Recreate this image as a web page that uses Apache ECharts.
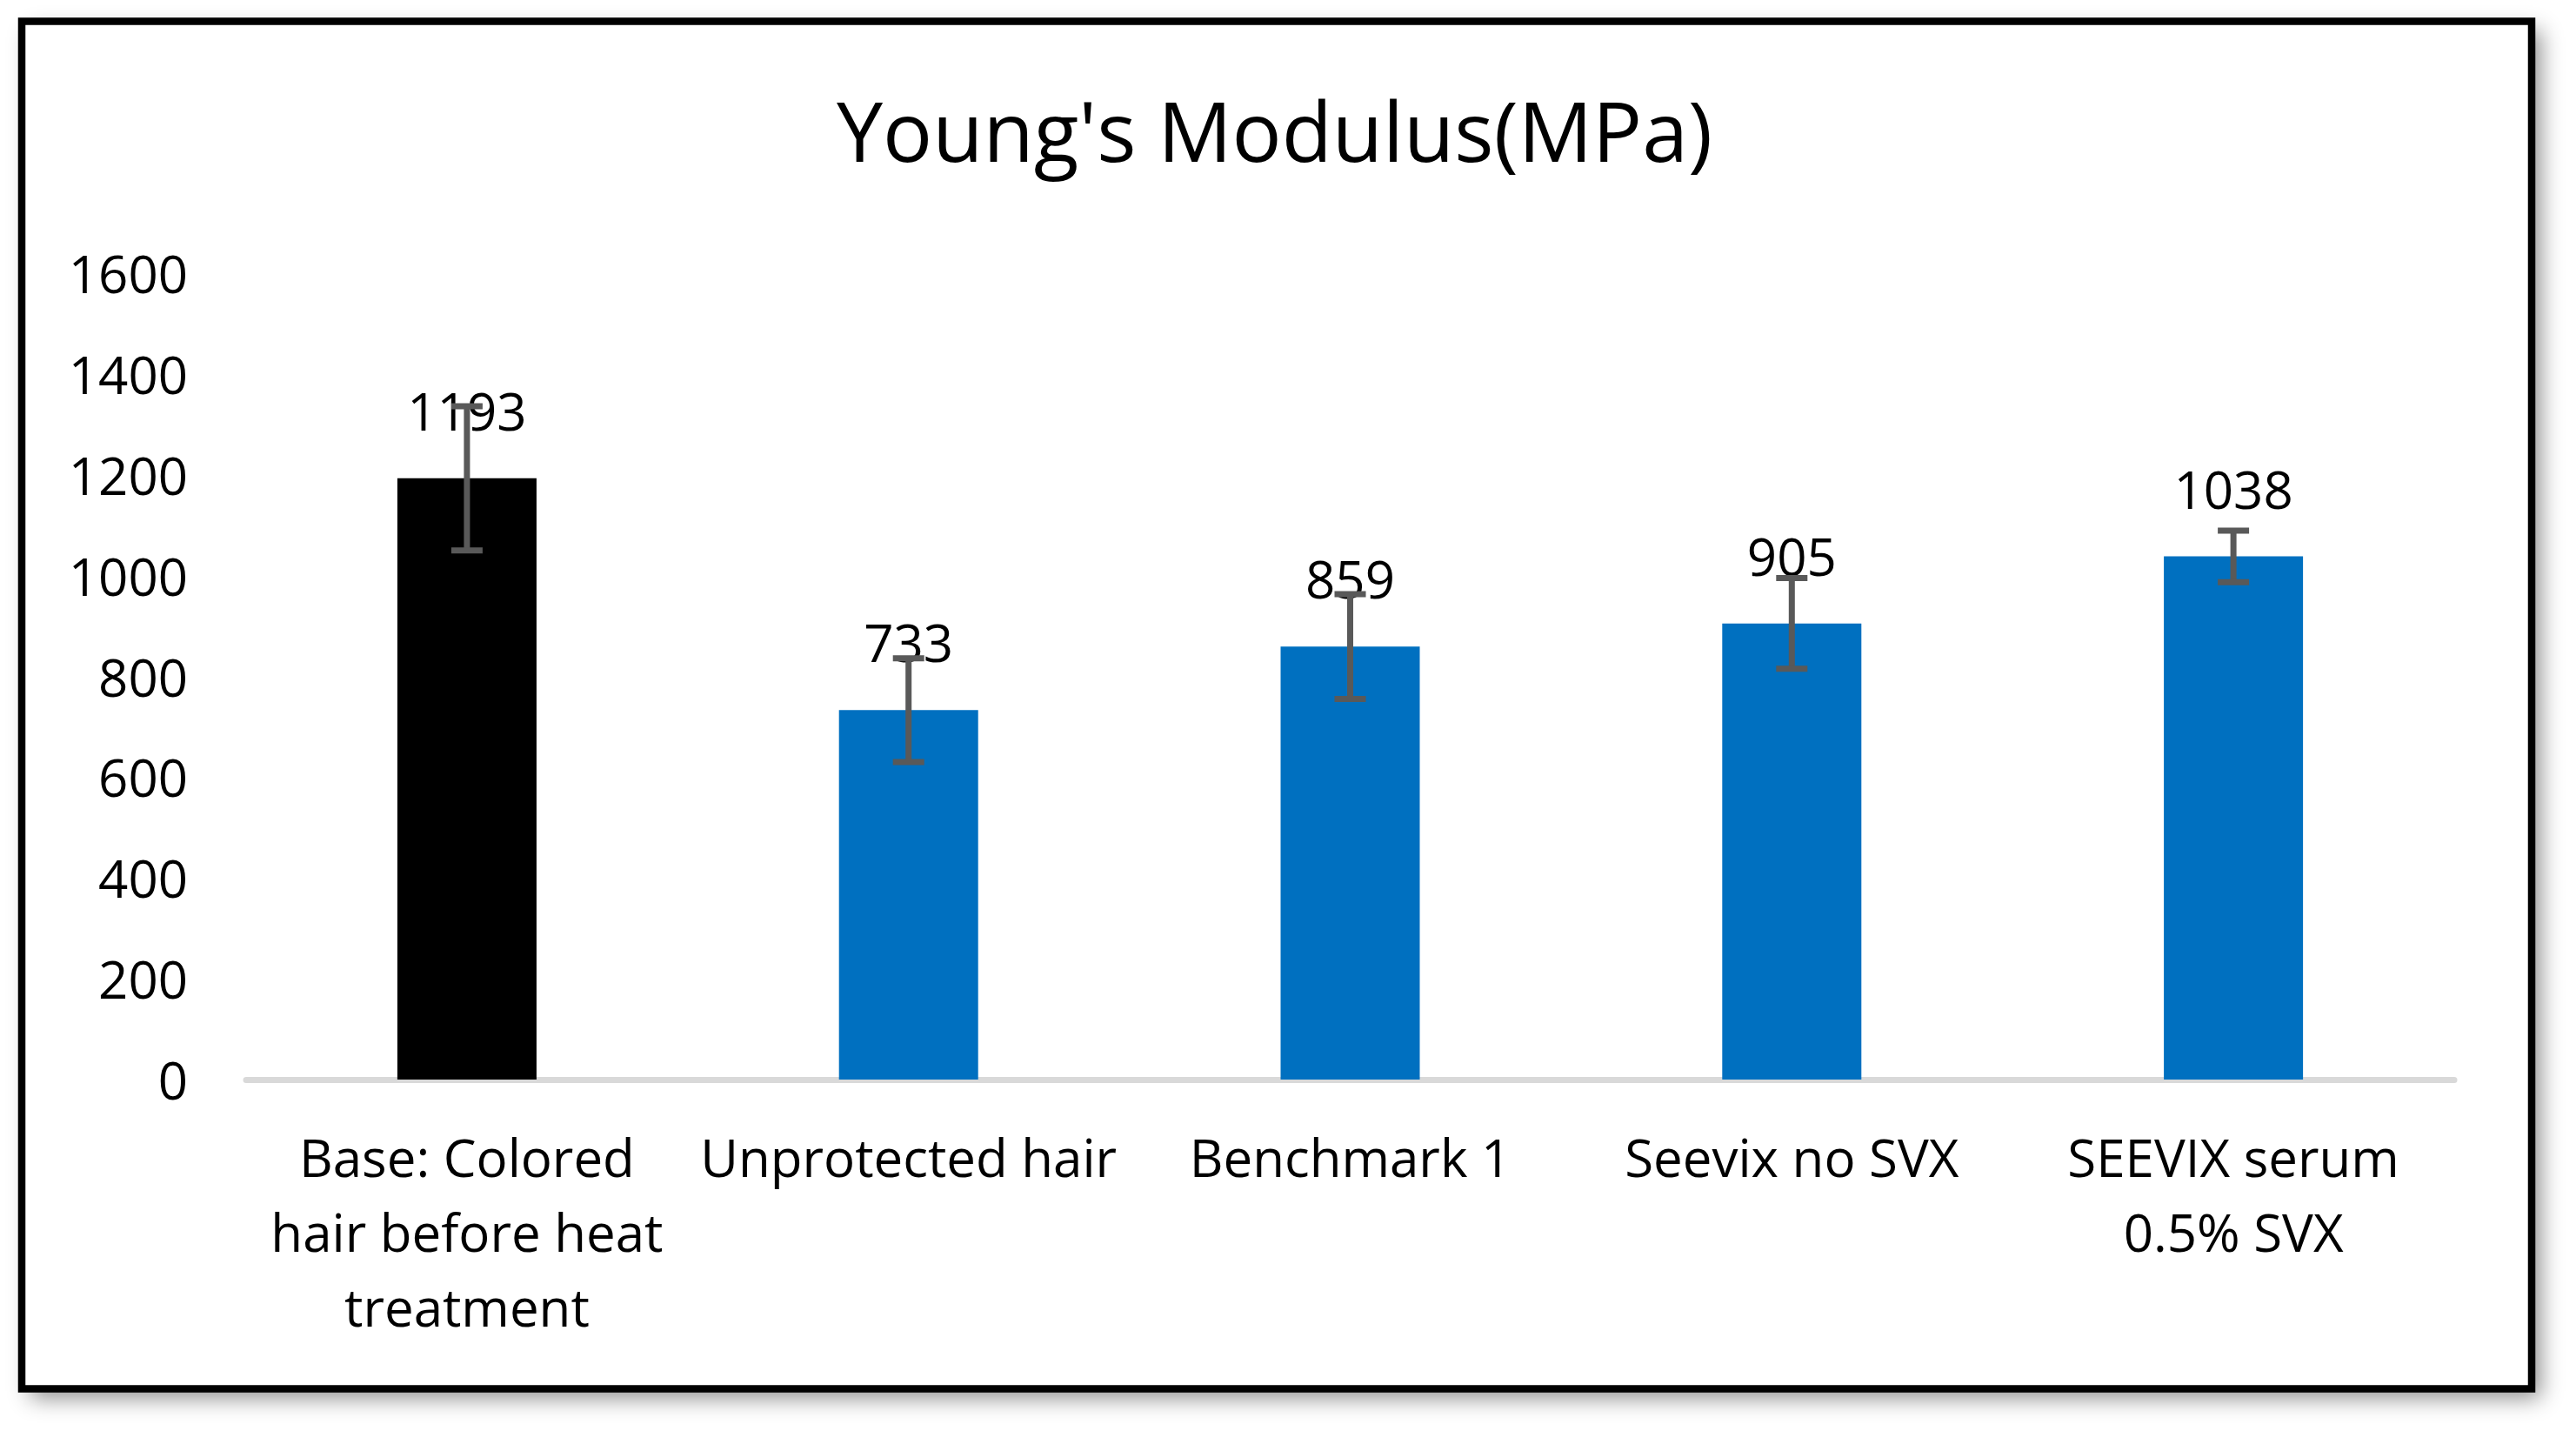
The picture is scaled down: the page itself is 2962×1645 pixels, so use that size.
<!DOCTYPE html>
<html>
<head>
<meta charset="utf-8">
<script src="https://cdn.jsdelivr.net/npm/echarts@6/dist/echarts.min.js"></script>
<style>
  html, body { margin: 0; padding: 0; background: #ffffff; }
  #chart { width: 2962px; height: 1645px; }
</style>
</head>
<body>
<div id="chart"></div>
<script>
const titleText = "Young's Modulus(MPa)";
const categories = [
  "Base: Colored\nhair before heat\ntreatment",
  "Unprotected hair",
  "Benchmark 1",
  "Seevix no SVX",
  "SEEVIX serum\n0.5% SVX"
];
const values = [1193, 733, 859, 905, 1038];
const errors = [143, 103, 104, 90, 51];
const barColors = ["#000000", "#0070C0", "#0070C0", "#0070C0", "#0070C0"];
const yMin = 0, yMax = 1600, yStep = 200;

const FONT = "'Open Sans', 'Noto Sans', sans-serif";
const chart = echarts.init(document.getElementById('chart'), null, { renderer: 'canvas' });

const barData = values.map((v, i) => ({ value: v, itemStyle: { color: barColors[i] } }));
const errData = values.map((v, i) => [i, v - errors[i], v + errors[i]]);

chart.setOption({
  backgroundColor: '#ffffff',
  animation: false,
  graphic: [
    {
      type: 'rect', z: -100,
      shape: { x: 25, y: 24.5, width: 2886, height: 1572 },
      style: { fill: '#ffffff', shadowBlur: 24, shadowOffsetX: 10, shadowOffsetY: 10, shadowColor: 'rgba(0,0,0,0.45)' }
    },
    {
      type: 'rect', z: 100,
      shape: { x: 25, y: 24.5, width: 2886, height: 1572 },
      style: { fill: 'none', stroke: '#000000', lineWidth: 8.5 }
    }
  ],
  title: {
    text: titleText,
    left: 957,
    top: 106,
    textStyle: { fontFamily: FONT, fontSize: 95, fontWeight: 'normal', color: '#000000' }
  },
  grid: { left: 283, right: 140, top: 314, bottom: 404, containLabel: false },
  xAxis: {
    type: 'category',
    data: categories,
    axisLine: { show: true, lineStyle: { color: '#D9D9D9', width: 7 } },
    axisTick: { show: false },
    axisLabel: {
      interval: 0, margin: 52,
      fontFamily: FONT, fontSize: 60, lineHeight: 86, color: '#000000', align: 'center'
    },
    splitLine: { show: false }
  },
  yAxis: {
    type: 'value',
    min: yMin, max: yMax, interval: yStep,
    axisLine: { show: false },
    axisTick: { show: false },
    splitLine: { show: false },
    axisLabel: {
      margin: 67, fontFamily: FONT, fontSize: 60, color: '#000000',
      verticalAlign: 'top', lineHeight: 12,
      formatter: function (v) { return String(v); }
    }
  },
  series: [
    {
      type: 'bar',
      data: barData,
      barWidth: 160,
      label: {
        show: true, position: 'top', distance: 42,
        fontFamily: FONT, fontSize: 60, lineHeight: 60, color: '#000000'
      }
    },
    {
      type: 'custom',
      z: 10,
      data: errData,
      renderItem: function (params, api) {
        const x = api.value(0);
        const lo = api.coord([x, api.value(1)]);
        const hi = api.coord([x, api.value(2)]);
        const hw = 18;
        const st = { stroke: '#595959', lineWidth: 7 };
        return {
          type: 'group',
          children: [
            { type: 'line', shape: { x1: hi[0], y1: hi[1], x2: lo[0], y2: lo[1] }, style: st },
            { type: 'line', shape: { x1: hi[0] - hw, y1: hi[1], x2: hi[0] + hw, y2: hi[1] }, style: st },
            { type: 'line', shape: { x1: lo[0] - hw, y1: lo[1], x2: lo[0] + hw, y2: lo[1] }, style: st }
          ]
        };
      }
    }
  ]
});
</script>
</body>
</html>
